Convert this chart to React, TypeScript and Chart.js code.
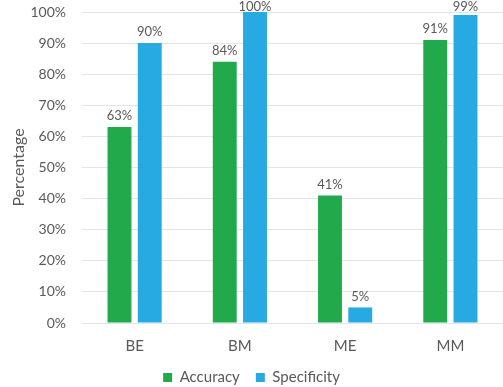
import React, { useEffect, useRef } from "react";
import { Chart, registerables } from "chart.js";

Chart.register(...registerables);

const categories = ["BE", "BM", "ME", "MM"];
const accuracy = [63, 84, 41, 91];
const specificity = [90, 100, 5, 99];
const yTicks = [0, 10, 20, 30, 40, 50, 60, 70, 80, 90, 100];

const GREEN = "#21a94b";
const BLUE = "#27a9e1";
const TEXT = "#595959";
const FONT = "Lato, 'Open Sans', sans-serif";

const valueLabels = {
  id: "valueLabels",
  afterDatasetsDraw(chart: any) {
    const ctx = chart.ctx;
    ctx.save();
    ctx.font = `13px ${FONT}`;
    ctx.fillStyle = TEXT;
    ctx.textAlign = "center";
    ctx.textBaseline = "middle";
    chart.data.datasets.forEach((ds: any, i: number) => {
      const meta = chart.getDatasetMeta(i);
      meta.data.forEach((bar: any, j: number) => {
        const y = Math.max(bar.y - 11, 7);
        ctx.fillText(ds.data[j] + "%", bar.x, y);
      });
    });
    ctx.restore();
  },
};

export default function App() {
  const ref = useRef<HTMLCanvasElement>(null);
  useEffect(() => {
    if (!ref.current) return;
    const chart = new Chart(ref.current, {
      type: "bar",
      data: {
        labels: categories,
        datasets: [
          { label: "Accuracy", data: accuracy, backgroundColor: GREEN, barPercentage: 0.79, categoryPercentage: 0.575 },
          { label: "Specificity", data: specificity, backgroundColor: BLUE, barPercentage: 0.79, categoryPercentage: 0.575 },
        ],
      },
      options: {
        animation: false,
        responsive: true,
        maintainAspectRatio: false,
        layout: { padding: { top: 12, right: 0, left: 0, bottom: -8 } },
        plugins: {
          legend: {
            position: "bottom",
            labels: {
              boxWidth: 9,
              boxHeight: 9,
              padding: 16,
              color: TEXT,
              font: { family: FONT, size: 15 },
            },
          },
          tooltip: { enabled: false },
        },
        scales: {
          x: {
            grid: { display: false, drawTicks: false },
            border: { display: false },
            afterFit: (scale: any) => {
              scale.height = 31;
              scale.paddingLeft = 0;
              scale.paddingRight = 0;
            },
            ticks: { color: TEXT, font: { family: FONT, size: 15 }, padding: 14 },
          },
          y: {
            min: 0,
            max: 100,
            afterBuildTicks: (scale: any) => {
              scale.ticks = yTicks.map((v) => ({ value: v }));
            },
            afterFit: (scale: any) => {
              scale.width = 82;
              scale.paddingTop = 0;
              scale.paddingBottom = 0;
            },
            grid: { color: "#dde6ec", drawTicks: false },
            border: { display: false },
            ticks: {
              color: TEXT,
              font: { family: FONT, size: 14 },
              padding: 16,
              callback: (v: any) => v + "%",
            },
            title: {
              display: true,
              text: "Percentage",
              color: TEXT,
              font: { family: FONT, size: 16 },
              padding: { top: 9, bottom: 0 },
            },
          },
        },
      },
      plugins: [valueLabels],
    });
    return () => chart.destroy();
  }, []);
  return (
    <div style={{ position: "absolute", left: 0, top: 0, width: 503, height: 387, background: "#fff" }}>
      <canvas ref={ref} />
    </div>
  );
}
